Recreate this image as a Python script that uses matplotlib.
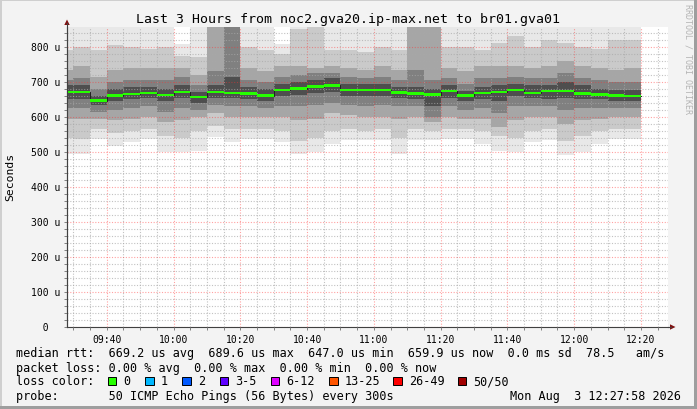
import matplotlib
matplotlib.use('Agg')
import matplotlib.pyplot as plt
import matplotlib.transforms as mtransforms
from matplotlib.patches import Polygon, Rectangle
from matplotlib.lines import Line2D
import numpy as np

W, H = 697, 410
MONO = 'DejaVu Sans Mono'

# 5 minute rrd steps, minutes after 09:00 (first one is cut by the axis)
bar_start = [25, 30, 35, 40, 45, 50, 55, 60, 65, 70, 75, 80, 85, 90, 95, 100, 105,
             110, 115, 120, 125, 130, 135, 140, 145, 150, 155, 160, 165, 170, 175,
             180, 185, 190, 195]

# median rtt per step, in microseconds
median = [672, 672, 647, 661, 665, 668, 662, 672, 657, 672, 669, 667, 661, 677, 681,
          687, 690, 678, 678, 678, 670, 667, 664, 675, 661, 669, 672, 678, 669, 675,
          675, 667, 664, 661, 660]

# smoke: sorted ping quantiles per step (us)
ping_min = [494, 494, 537, 518, 528, 537, 500, 500, 502, 543, 528, 537, 537, 528, 494,
            500, 523, 533, 533, 533, 494, 533, 533, 537, 537, 523, 504, 500, 528, 533,
            491, 500, 523, 537, 537]
ping_p10 = [540, 537, 565, 555, 560, 565, 545, 540, 560, 575, 565, 565, 565, 560, 530,
            540, 560, 565, 560, 565, 540, 565, 560, 565, 565, 560, 545, 540, 560, 565,
            530, 545, 560, 565, 565]
ping_p20 = [595, 595, 595, 590, 595, 600, 585, 590, 600, 610, 600, 600, 600, 600, 590,
            595, 610, 605, 600, 600, 595, 600, 585, 600, 595, 595, 570, 590, 600, 600,
            580, 590, 595, 600, 600]
ping_p30 = [625, 625, 615, 620, 625, 630, 615, 625, 620, 635, 630, 630, 625, 630, 630,
            635, 640, 635, 630, 635, 630, 630, 600, 630, 620, 625, 610, 630, 630, 630,
            620, 625, 625, 625, 625]
ping_p40 = [652, 650, 635, 645, 650, 655, 645, 655, 640, 655, 655, 650, 645, 660, 662,
            668, 672, 660, 660, 660, 655, 650, 630, 655, 645, 650, 645, 660, 655, 650,
            655, 650, 650, 645, 645]
ping_p60 = [690, 690, 660, 680, 685, 685, 680, 690, 670, 690, 715, 685, 680, 695, 700,
            705, 710, 695, 695, 695, 685, 685, 680, 690, 675, 685, 690, 695, 690, 690,
            700, 690, 680, 678, 678]
ping_p70 = [705, 710, 680, 700, 705, 705, 705, 715, 690, 730, 880, 705, 700, 715, 720,
            725, 725, 715, 710, 715, 705, 735, 705, 710, 695, 710, 710, 715, 710, 710,
            725, 710, 705, 700, 700]
ping_p80 = [735, 745, 715, 735, 740, 740, 740, 740, 720, 880, 900, 740, 730, 745, 745,
            740, 745, 740, 735, 745, 735, 880, 900, 740, 730, 745, 745, 745, 740, 745,
            760, 745, 740, 735, 740]
ping_p90 = [790, 800, 790, 805, 800, 795, 800, 775, 770, 900, 920, 800, 790, 780, 850,
            870, 790, 790, 785, 800, 790, 900, 920, 800, 800, 790, 810, 830, 800, 820,
            810, 800, 795, 820, 820]
ping_max = [900, 900, 900, 900, 900, 900, 900, 808, 900, 950, 950, 900, 900, 808, 900,
            900, 900, 900, 900, 900, 900, 950, 950, 900, 900, 900, 900, 900, 900, 900,
            900, 900, 900, 900, 900]

x_ticks = [40, 60, 80, 100, 120, 140, 160, 180, 200]
x_labels = ['09:40', '10:00', '10:20', '10:40', '11:00', '11:20', '11:40', '12:00', '12:20']
y_ticks = [0, 100, 200, 300, 400, 500, 600, 700, 800]
y_labels = ['  0', '100 u', '200 u', '300 u', '400 u', '500 u', '600 u', '700 u', '800 u']

loss_labels = ['0', '1', '2', '3-5', '6-12', '13-25', '26-49', '50/50']
loss_colors = ['#26ff00', '#00b8ff', '#0059ff', '#5e00ff', '#dd00ff', '#ff5500', '#ff0000', '#a10000']

legend_rows = [
    'median rtt:  669.2 us avg  689.6 us max  647.0 us min  659.9 us now  0.0 ms sd  78.5   am/s',
    'packet loss: 0.00 % avg  0.00 % max  0.00 % min  0.00 % now',
    'loss color:',
    'probe:       50 ICMP Echo Pings (56 Bytes) every 300s',
]
stamp = 'Mon Aug  3 12:27:58 2026'


def fx(px):
    return px / W


def fy(py):
    return 1 - py / H


fig = plt.figure(figsize=(W / 100, H / 100), dpi=100)
fig.patch.set_facecolor('#f3f3f3')

# frame shading
fig.add_artist(Rectangle((0, 1 - 2 / H), 1, 2 / H, transform=fig.transFigure, color='#cfcfcf', lw=0))
fig.add_artist(Rectangle((0, 0), 2 / W, 1, transform=fig.transFigure, color='#cfcfcf', lw=0))
fig.add_artist(Rectangle((0, 0), 1, 3 / H, transform=fig.transFigure, color='#9e9e9e', lw=0))
fig.add_artist(Rectangle((1 - 3 / W, 0), 3 / W, 1, transform=fig.transFigure, color='#9e9e9e', lw=0))

ax = fig.add_axes([fx(67), fy(328), (668 - 67) / W, 300 / H])
ax.set_facecolor('white')
ax.set_xlim(28.1, 208.1)
ax.set_ylim(0, 857)

# smoke, outer (light) to inner (dark)
bands = [(ping_min, ping_max, '#e8e8e8'),
         (ping_p10, ping_p90, '#cacaca'),
         (ping_p20, ping_p80, '#a6a6a6'),
         (ping_p30, ping_p70, '#808080'),
         (ping_p40, ping_p60, '#4e4e4e')]
for lo, hi, col in bands:
    ax.bar(bar_start, np.subtract(hi, lo), bottom=lo, width=5, align='edge',
           color=col, lw=0, antialiased=False, zorder=1)

# median: thin dark line plus green loss-colored band
edges = bar_start + [bar_start[-1] + 5]
ax.step(edges, median + [median[-1]], where='post', color='#202020', lw=0.7, zorder=3)
sw = 3.2
ax.bar(bar_start, 2 * sw, bottom=np.subtract(median, sw), width=5, align='edge',
       color=loss_colors[0], lw=0, antialiased=False, zorder=4)

# grid
ax.set_xticks(x_ticks, labels=x_labels)
ax.set_xticks(bar_start[1:] + [200, 205], minor=True)
ax.set_yticks(y_ticks, labels=[])
ax.set_yticks(np.arange(20, 857, 20), minor=True)
ax.set_axisbelow(False)
ax.grid(which='minor', color='#a8a8a8', alpha=0.7, linestyle=(0, (1, 1.5)), lw=0.8)
ax.grid(which='major', color='#ff3030', alpha=0.45, linestyle=(0, (1, 1.5)), lw=0.8)
ax.tick_params(which='both', direction='out', length=2, width=0.7, color='#808080')
ax.tick_params(axis='x', which='major', labelsize=7, pad=2.8)
for lab in ax.get_xticklabels():
    lab.set_family(MONO)

for sp in ['top', 'right']:
    ax.spines[sp].set_visible(False)
for sp in ['left', 'bottom']:
    ax.spines[sp].set_color('#404040')
    ax.spines[sp].set_linewidth(0.8)

ytrans = mtransforms.blended_transform_factory(ax.transAxes, ax.transData)
for v, lab in zip(y_ticks, y_labels):
    ax.text(-(67 - 30.7) / 601, v, lab, transform=ytrans, ha='left', va='center',
            fontsize=7, family=MONO, color='black')

# axis arrows
fig.add_artist(Line2D([fx(67), fx(67)], [fy(328), fy(24)], transform=fig.transFigure,
                      color='#404040', lw=0.8))
fig.add_artist(Line2D([fx(668), fx(671)], [fy(328), fy(328)], transform=fig.transFigure,
                      color='#404040', lw=0.8))
fig.add_artist(Polygon([(fx(64.3), fy(26)), (fx(69.7), fy(26)), (fx(67), fy(20.5))],
                       closed=True, transform=fig.transFigure, color='#801010', lw=0))
fig.add_artist(Polygon([(fx(670), fy(325.3)), (fx(670), fy(330.7)), (fx(675.5), fy(328))],
                       closed=True, transform=fig.transFigure, color='#801010', lw=0))

# titles
fig.text(fx(348.5), fy(19), 'Last 3 Hours from noc2.gva20.ip-max.net to br01.gva01',
         ha='center', va='center', fontsize=9.5, family=MONO)
fig.text(fx(10), fy(177), 'Seconds', rotation=90, ha='center', va='center',
         fontsize=8.2, family=MONO)
fig.text(fx(688), fy(4), 'RRDTOOL / TOBI OETIKER', rotation=270, ha='center', va='top',
         fontsize=6, family=MONO, color='#b4b4b4')

# legend
row_y = [354, 368.3, 381.7, 396.7]
for txt, yy in zip(legend_rows, row_y):
    fig.text(fx(16), fy(yy), txt, ha='left', va='center', fontsize=8.5, family=MONO)
fig.text(fx(681), fy(row_y[3]), stamp, ha='right', va='center', fontsize=8.5, family=MONO)

box_x = [108, 145.3, 182.3, 219.5, 271, 329.3, 393.3, 458]
for bx, lab, col in zip(box_x, loss_labels, loss_colors):
    fig.add_artist(Rectangle((fx(bx), fy(385.5)), 8.4 / W, 8 / H, transform=fig.transFigure,
                             facecolor=col, edgecolor='black', lw=0.7))
    fig.text(fx(bx + 15.5), fy(row_y[2]), lab, ha='left', va='center', fontsize=8.5, family=MONO)

fig.savefig('out.png', dpi=100, facecolor=fig.get_facecolor())
